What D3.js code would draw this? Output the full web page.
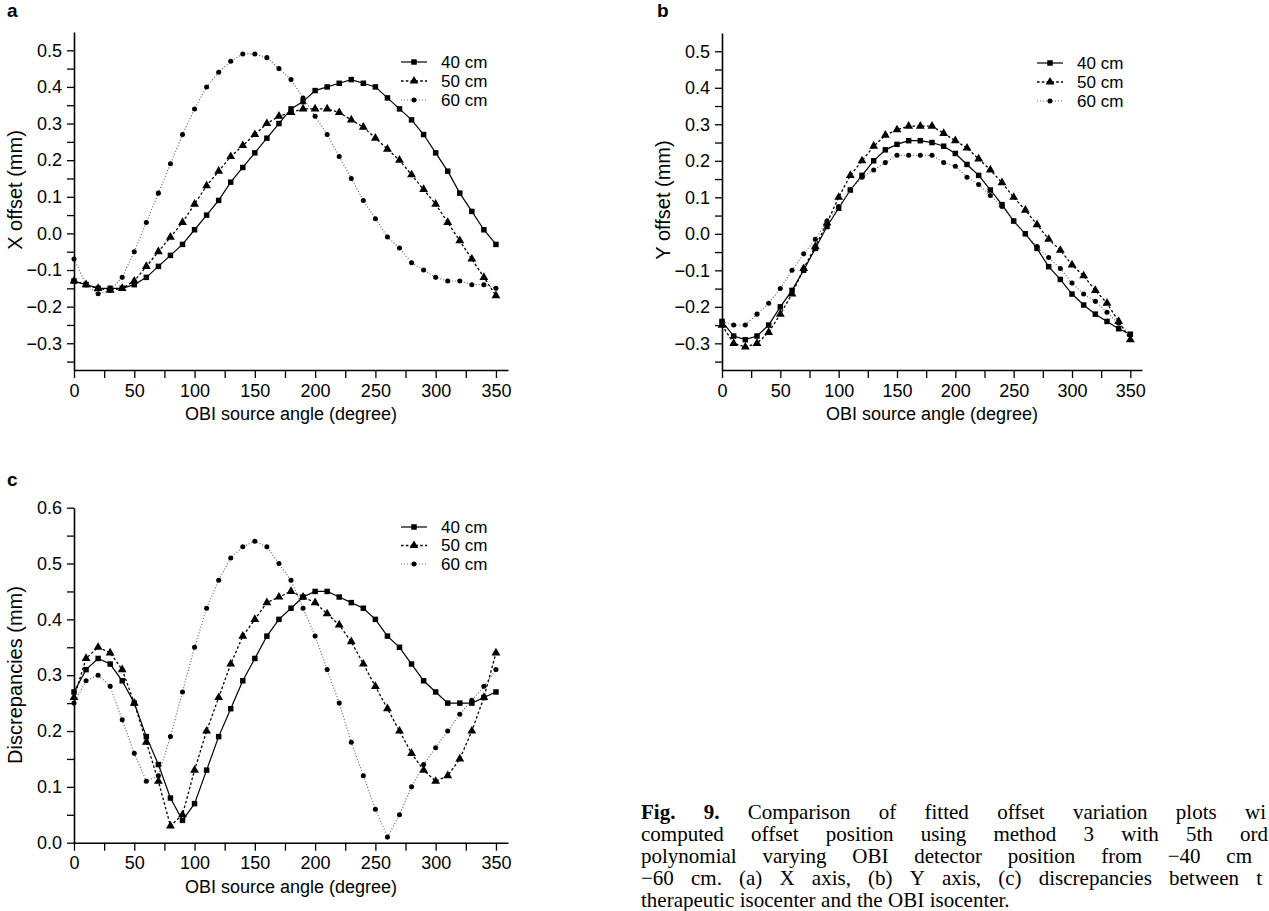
<!DOCTYPE html>
<html>
<head>
<meta charset="utf-8">
<script src="https://cdn.jsdelivr.net/npm/d3@7"></script>
<style>
  body { margin: 0; background: #fff; }
  svg { display: block; }
  .sans { font-family: "Liberation Sans", Arial, Helvetica, sans-serif; }
  .serif { font-family: "Liberation Serif", "Times New Roman", serif; }
</style>
</head>
<body>
<svg id="fig" width="1269" height="911"></svg>
<script>
// OBI source angles (degree)
const angles = [0, 10, 20, 30, 40, 50, 60, 70, 80, 90, 100, 110, 120, 130, 140, 150, 160, 170,
                180, 190, 200, 210, 220, 230, 240, 250, 260, 270, 280, 290, 300, 310, 320, 330, 340, 350];
const seriesNames = ["40 cm", "50 cm", "60 cm"];

// (a) X offset (mm)
const xOffset40 = [-0.13, -0.14, -0.15, -0.15, -0.15, -0.14, -0.12, -0.09, -0.06, -0.03, 0.01, 0.05, 0.09, 0.14, 0.18, 0.22, 0.26, 0.30,
                   0.34, 0.36, 0.39, 0.40, 0.41, 0.42, 0.41, 0.40, 0.37, 0.34, 0.31, 0.27, 0.22, 0.17, 0.11, 0.06, 0.01, -0.03];
const xOffset50 = [-0.13, -0.14, -0.15, -0.155, -0.15, -0.13, -0.09, -0.05, -0.01, 0.03, 0.08, 0.13, 0.17, 0.21, 0.24, 0.27, 0.30, 0.32,
                   0.33, 0.34, 0.34, 0.34, 0.33, 0.31, 0.29, 0.26, 0.23, 0.20, 0.16, 0.12, 0.08, 0.03, -0.02, -0.07, -0.12, -0.17];
const xOffset60 = [-0.07, -0.14, -0.165, -0.155, -0.12, -0.05, 0.03, 0.11, 0.19, 0.27, 0.34, 0.40, 0.44, 0.47, 0.49, 0.49, 0.48, 0.45,
                   0.42, 0.37, 0.32, 0.27, 0.21, 0.15, 0.09, 0.04, -0.01, -0.04, -0.08, -0.10, -0.12, -0.13, -0.13, -0.14, -0.14, -0.15];

// (b) Y offset (mm)
const yOffset40 = [-0.24, -0.28, -0.29, -0.28, -0.25, -0.20, -0.155, -0.10, -0.04, 0.02, 0.07, 0.12, 0.16, 0.20, 0.23, 0.245, 0.255, 0.255,
                   0.25, 0.24, 0.22, 0.19, 0.16, 0.12, 0.08, 0.035, 0.00, -0.04, -0.09, -0.125, -0.165, -0.195, -0.22, -0.24, -0.26, -0.275];
const yOffset50 = [-0.25, -0.30, -0.31, -0.30, -0.27, -0.22, -0.165, -0.095, -0.035, 0.03, 0.10, 0.16, 0.20, 0.24, 0.27, 0.285, 0.295, 0.295,
                   0.295, 0.275, 0.255, 0.235, 0.205, 0.175, 0.14, 0.10, 0.065, 0.025, -0.015, -0.045, -0.085, -0.115, -0.155, -0.19, -0.24, -0.29];
const yOffset60 = [-0.24, -0.25, -0.25, -0.22, -0.19, -0.15, -0.10, -0.055, -0.015, 0.035, 0.075, 0.12, 0.155, 0.175, 0.195, 0.215, 0.215, 0.215,
                   0.215, 0.195, 0.185, 0.155, 0.135, 0.105, 0.075, 0.035, 0.00, -0.035, -0.065, -0.095, -0.135, -0.165, -0.185, -0.215, -0.245, -0.275];

// (c) Discrepancies (mm)
const disc40 = [0.27, 0.31, 0.33, 0.32, 0.29, 0.25, 0.19, 0.14, 0.08, 0.04, 0.07, 0.13, 0.19, 0.24, 0.29, 0.33, 0.37, 0.40,
                0.42, 0.44, 0.45, 0.45, 0.44, 0.43, 0.42, 0.40, 0.37, 0.35, 0.32, 0.29, 0.27, 0.25, 0.25, 0.25, 0.26, 0.27];
const disc50 = [0.26, 0.33, 0.35, 0.34, 0.31, 0.25, 0.18, 0.11, 0.03, 0.05, 0.13, 0.20, 0.26, 0.32, 0.37, 0.40, 0.43, 0.44,
                0.45, 0.44, 0.43, 0.41, 0.39, 0.36, 0.32, 0.28, 0.24, 0.20, 0.16, 0.13, 0.11, 0.12, 0.15, 0.20, 0.26, 0.34];
const disc60 = [0.25, 0.29, 0.30, 0.28, 0.22, 0.16, 0.11, 0.12, 0.19, 0.27, 0.35, 0.42, 0.47, 0.51, 0.53, 0.54, 0.53, 0.50,
                0.47, 0.42, 0.37, 0.31, 0.25, 0.18, 0.12, 0.06, 0.01, 0.05, 0.10, 0.14, 0.17, 0.20, 0.23, 0.255, 0.28, 0.31];

// Axis ticks
const angleTicks = [0, 50, 100, 150, 200, 250, 300, 350];
const angleMinorTicks = [25, 75, 125, 175, 225, 275, 325];
const offsetTicks = [-0.3, -0.2, -0.1, 0.0, 0.1, 0.2, 0.3, 0.4, 0.5];
const offsetMinorTicks = [-0.35, -0.25, -0.15, -0.05, 0.05, 0.15, 0.25, 0.35, 0.45];
const discTicks = [0.0, 0.1, 0.2, 0.3, 0.4, 0.5, 0.6];
const discMinorTicks = [0.05, 0.15, 0.25, 0.35, 0.45, 0.55];

// Caption lines as they appear in the cropped page column
const captionLines = [
  "Fig. 9. Comparison of fitted offset variation plots wi",
  "computed offset position using method 3 with 5th ord",
  "polynomial varying OBI detector position from \u221240 cm",
  "\u221260 cm. (a) X axis, (b) Y axis, (c) discrepancies between t",
  "therapeutic isocenter and the OBI isocenter."
];
// right end of each justified line within the column (null = ragged last line)
const captionLineEnds = [1266, 1268, 1252, 1262, null];

const svg = d3.select("#fig");

// Line/marker style for each detector distance
const styles = [
  { symbol: d3.symbolSquare,   size: 30, stroke: "#000", dash: null,      width: 1.2 },
  { symbol: d3.symbolTriangle, size: 34, stroke: "#000", dash: "2.6,2.2", width: 1.3 },
  { symbol: d3.symbolCircle,   size: 20, stroke: "#666", dash: "1,2",     width: 1.2 }
];

function drawPanel(cfg) {
  const g = svg.append("g").attr("class", "sans");
  const x = d3.scaleLinear().domain([0, 360]).range([cfg.left, cfg.right]);
  const y = d3.scaleLinear().domain(cfg.yDomain).range([cfg.bottom, cfg.top]);

  // x axis: labelled ticks every 50, minor ticks between
  g.append("g").attr("transform", `translate(0,${cfg.bottom})`)
    .call(d3.axisBottom(x).tickValues(angleTicks).tickSize(8).tickSizeOuter(0).tickPadding(6)
      .tickFormat(d3.format("d")));
  g.append("g").attr("transform", `translate(0,${cfg.bottom})`)
    .call(d3.axisBottom(x).tickValues(angleMinorTicks).tickSize(8).tickSizeOuter(0).tickFormat(""))
    .select(".domain").remove();

  // y axis
  g.append("g").attr("transform", `translate(${cfg.left},0)`)
    .call(d3.axisLeft(y).tickValues(cfg.yTicks).tickSize(7).tickSizeOuter(0).tickPadding(5)
      .tickFormat(d3.format(".1f")));
  g.append("g").attr("transform", `translate(${cfg.left},0)`)
    .call(d3.axisLeft(y).tickValues(cfg.yMinor).tickSize(7).tickSizeOuter(0).tickFormat(""))
    .select(".domain").remove();

  g.selectAll(".domain").attr("stroke", "#000").attr("stroke-width", 1.6);
  g.selectAll(".tick line").attr("stroke", "#000").attr("stroke-width", 1.3);
  g.selectAll(".tick text").attr("font-size", 18).attr("fill", "#000")
    .attr("font-family", "\"Liberation Sans\", Arial, sans-serif");

  // series lines and markers
  const line = d3.line().x(d => x(d[0])).y(d => y(d[1]));
  cfg.series.forEach((vals, i) => {
    const st = styles[i];
    const pts = angles.map((a, k) => [a, vals[k]]);
    g.append("path").datum(pts)
      .attr("d", line).attr("fill", "none")
      .attr("stroke", st.stroke).attr("stroke-width", st.width)
      .attr("stroke-dasharray", st.dash);
    g.append("g").selectAll("path").data(pts).join("path")
      .attr("transform", d => `translate(${x(d[0])},${y(d[1])})`)
      .attr("d", d3.symbol(st.symbol, st.size)).attr("fill", "#000");
  });

  // legend
  seriesNames.forEach((name, i) => {
    const st = styles[i];
    const ly = cfg.legend.y + i * cfg.legend.dy;
    g.append("line").attr("x1", cfg.legend.x).attr("x2", cfg.legend.x + 26)
      .attr("y1", ly).attr("y2", ly)
      .attr("stroke", st.stroke).attr("stroke-width", st.width).attr("stroke-dasharray", st.dash);
    g.append("path").attr("transform", `translate(${cfg.legend.x + 13},${ly})`)
      .attr("d", d3.symbol(st.symbol, st.size)).attr("fill", "#000");
    g.append("text").attr("x", cfg.legend.x + 40).attr("y", ly).attr("dy", "0.35em")
      .attr("font-size", 17).text(name);
  });

  // axis titles
  g.append("text").attr("x", (cfg.left + cfg.right) / 2).attr("y", cfg.bottom + 50)
    .attr("text-anchor", "middle").attr("font-size", 18).text("OBI source angle (degree)");
  g.append("text").attr("transform", `translate(${cfg.left - 52},${cfg.titleY}) rotate(-90)`)
    .attr("text-anchor", "middle").attr("font-size", 20).text(cfg.yTitle);

  // panel letter
  g.append("text").attr("x", cfg.letterX).attr("y", cfg.letterY)
    .attr("font-size", 19).attr("font-weight", "bold").text(cfg.letter);
}

drawPanel({
  letter: "a", letterX: 7, letterY: 17,
  left: 74, right: 508, top: 32, bottom: 370,
  yDomain: [-0.373, 0.55], yTicks: offsetTicks, yMinor: offsetMinorTicks,
  yTitle: "X offset (mm)", titleY: 190,
  series: [xOffset40, xOffset50, xOffset60],
  legend: { x: 401, y: 62, dy: 19 }
});

drawPanel({
  letter: "b", letterX: 657, letterY: 17,
  left: 722, right: 1142, top: 33, bottom: 370,
  yDomain: [-0.373, 0.55], yTicks: offsetTicks, yMinor: offsetMinorTicks,
  yTitle: "Y offset (mm)", titleY: 200,
  series: [yOffset40, yOffset50, yOffset60],
  legend: { x: 1037, y: 63, dy: 19 }
});

drawPanel({
  letter: "c", letterX: 7, letterY: 486,
  left: 74, right: 508, top: 507.7, bottom: 842.7,
  yDomain: [0, 0.6], yTicks: discTicks, yMinor: discMinorTicks,
  yTitle: "Discrepancies (mm)", titleY: 675,
  series: [disc40, disc50, disc60],
  legend: { x: 401, y: 527, dy: 18.5 }
});

// Caption: justified serif block, last line set ragged
const cap = svg.append("g").attr("class", "serif").attr("font-size", 21).attr("fill", "#000");
const capLeft = 641, capTop = 819, capLead = 22;
captionLines.forEach((lineText, li) => {
  const words = lineText.split(" ");
  const nodes = words.map((w, wi) => {
    const t = cap.append("text").attr("y", capTop + li * capLead).text(w);
    if (li === 0 && wi < 2) t.attr("font-weight", "bold");
    return t;
  });
  const widths = nodes.map(n => n.node().getComputedTextLength());
  const total = d3.sum(widths);
  const end = captionLineEnds[li];
  const gap = end === null ? 5.5 : (end - capLeft - total) / (words.length - 1);
  let cx = capLeft;
  nodes.forEach((n, k) => { n.attr("x", cx); cx += widths[k] + gap; });
});
</script>
</body>
</html>
